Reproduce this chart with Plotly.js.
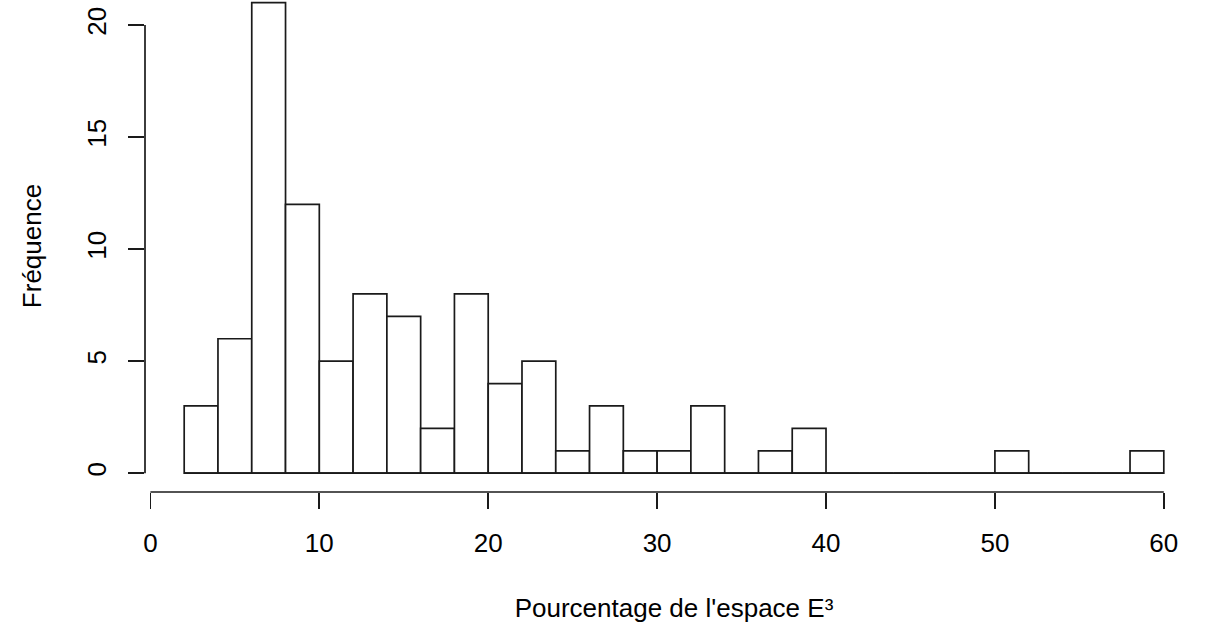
<!DOCTYPE html>
<html>
<head>
<meta charset="utf-8">
<script src="https://cdn.plot.ly/plotly-3.0.1.min.js"></script>
<style>html,body{margin:0;padding:0;background:#fff;}#chart{width:1205px;height:623px;}</style>
</head>
<body>
<div id="chart"></div>
<script>
// Histogram bins (Pourcentage de l'espace E³), width 2
const binStarts = [2,4,6,8,10,12,14,16,18,20,22,24,26,28,30,32,34,36,38,40,42,44,46,48,50,52,54,56,58];
const counts    = [3,6,21,12,5,8,7,2,8,4,5,1,3,1,1,3,0,1,2,0,0,0,0,0,1,0,0,0,1];
const binWidth = 2;
const xTicks = [0,10,20,30,40,50,60];
const yTicks = [0,5,10,15,20];
const xTitle = "Pourcentage de l'espace E³";
const yTitle = "Fréquence";

const font = {family: '"Liberation Sans", Arial, sans-serif', size: 26, color: '#000'};
const lineCol = '#1a1a1a';
const lw = 1.7;

const centers = binStarts.map(s => s + binWidth / 2);
const lastEdge = binStarts[binStarts.length - 1] + binWidth;

const traces = [
  {
    type: 'scatter', mode: 'lines',
    x: [binStarts[0], lastEdge], y: [0, 0],
    line: {color: lineCol, width: lw},
    hoverinfo: 'skip', showlegend: false
  },
  {
    type: 'bar', x: centers, y: counts, width: binWidth,
    marker: {color: '#fff', line: {color: lineCol, width: lw}},
    showlegend: false
  }
];

const layout = {
  width: 1205, height: 623,
  margin: {l: 145, r: 2, t: 0, b: 131},
  paper_bgcolor: '#fff', plot_bgcolor: '#fff',
  font: font,
  bargap: 0,
  xaxis: {
    range: [-0.32, 62.32],
    tickvals: xTicks, ticktext: xTicks.map(String),
    ticks: 'outside', ticklen: 16, tickwidth: lw, tickcolor: lineCol,
    showgrid: false, zeroline: false, showline: false,
    ticklabelstandoff: 12,
    tickfont: font,
    title: {text: xTitle, font: font, standoff: 46},
    automargin: false
  },
  yaxis: {
    range: [-0.84, 21.12],
    tickvals: yTicks, ticktext: yTicks.map(String),
    ticks: 'outside', ticklen: 16, tickwidth: lw, tickcolor: lineCol,
    tickangle: -90,
    showgrid: false, zeroline: false, showline: false,
    ticklabelstandoff: 12,
    tickfont: font,
    title: {text: yTitle, font: font, standoff: 32},
    automargin: false
  },
  shapes: [
    {type: 'line', xref: 'x', yref: 'paper', x0: xTicks[0], x1: xTicks[xTicks.length-1], y0: 0, y1: 0,
     line: {color: lineCol, width: lw}},
    {type: 'line', xref: 'paper', yref: 'y', x0: 0, x1: 0, y0: yTicks[0], y1: yTicks[yTicks.length-1],
     line: {color: lineCol, width: lw}}
  ]
};

Plotly.newPlot('chart', traces, layout, {displayModeBar: false, staticPlot: true});
</script>
</body>
</html>
